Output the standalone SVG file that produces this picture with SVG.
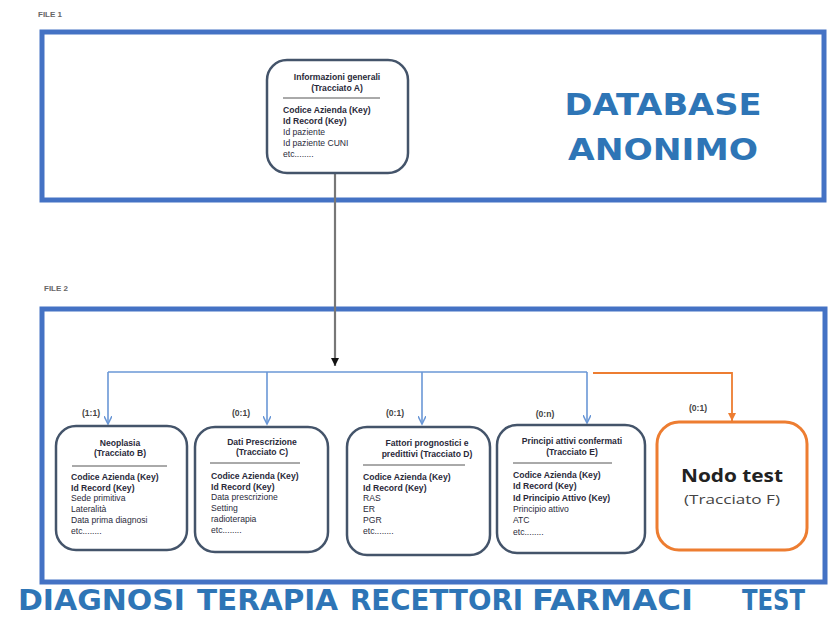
<svg xmlns="http://www.w3.org/2000/svg" width="833" height="617" viewBox="0 0 833 617">
<style>
.frame{fill:none;stroke:#4472C4;stroke-width:5}
.node{fill:#fff;stroke:#44546A;stroke-width:2.5}
.nodeF{fill:#fff;stroke:#ED7D31;stroke-width:3}
.t{font-family:"Liberation Sans",Arial,sans-serif;font-size:8.6px;fill:#2a2a3a}
.b{font-weight:bold}
.c{text-anchor:middle}
.sep{stroke:#555;stroke-width:1}
.lbl{font-family:"Liberation Sans",Arial,sans-serif;font-size:8.6px;font-weight:bold;fill:#444;text-anchor:middle}
.file{font-family:"Liberation Sans",Arial,sans-serif;font-size:8px;font-weight:bold;fill:#666}
.big{font-family:"DejaVu Sans",Verdana,sans-serif;font-weight:bold;font-size:31px;fill:#2E75B6;text-anchor:middle}
.bot{font-family:"DejaVu Sans Condensed","Liberation Sans",sans-serif;font-weight:bold;font-size:29px;fill:#2E75B6}
.blue{fill:none;stroke:#6A97D6;stroke-width:1.6}
.orange{fill:none;stroke:#ED7D31;stroke-width:1.8}
</style>
<defs>
<marker id="ab" markerWidth="10" markerHeight="8" refX="8" refY="4" orient="auto" markerUnits="userSpaceOnUse"><path d="M0,0 L8,4 L0,8" fill="none" stroke="#6A97D6" stroke-width="1.5"/></marker>
<marker id="ao" markerWidth="10" markerHeight="8" refX="8" refY="4" orient="auto" markerUnits="userSpaceOnUse"><path d="M0,0 L8,4 L0,8 z" fill="#ED7D31"/></marker>
<marker id="ak" markerWidth="10" markerHeight="8" refX="8" refY="4" orient="auto" markerUnits="userSpaceOnUse"><path d="M0,0 L8,4 L0,8 z" fill="#111"/></marker>
</defs>

<g id="file1">
<text class="file" x="38" y="17">FILE 1</text>
<rect class="frame" x="42" y="32" width="782" height="168"/>
<text class="big" x="663" y="115" textLength="197" lengthAdjust="spacingAndGlyphs">DATABASE</text>
<text class="big" x="663" y="160" textLength="190" lengthAdjust="spacingAndGlyphs">ANONIMO</text>
</g>

<g id="file2">
<text class="file" x="44" y="291">FILE 2</text>
<rect class="frame" x="42" y="309" width="783" height="273"/>
</g>

<g id="connectors">
<path d="M335,173 V366" fill="none" stroke="#777" stroke-width="2.2" marker-end="url(#ak)"/>
<path class="blue" d="M108,372 H587"/>
<path class="blue" d="M108,372 V424" marker-end="url(#ab)"/>
<path class="blue" d="M267,372 V424" marker-end="url(#ab)"/>
<path class="blue" d="M422,372 V424" marker-end="url(#ab)"/>
<path class="blue" d="M587,372 V423" marker-end="url(#ab)"/>
<path class="orange" d="M593,373 H732 V421" marker-end="url(#ao)"/>
<text class="lbl" x="91" y="416">(1:1)</text>
<text class="lbl" x="241" y="416">(0:1)</text>
<text class="lbl" x="395" y="416">(0:1)</text>
<text class="lbl" x="545" y="417">(0:n)</text>
<text class="lbl" x="698" y="411">(0:1)</text>
</g>

<g id="nodeA">
<rect class="node" x="267" y="60" width="141" height="113" rx="20"/>
<text class="t b c" x="337" y="80">Informazioni generali</text>
<text class="t b c" x="337" y="91">(Tracciato A)</text>
<line class="sep" x1="283" y1="98" x2="380" y2="98"/>
<text class="t b" x="283" y="113">Codice Azienda (Key)</text>
<text class="t b" x="283" y="124">Id Record (Key)</text>
<text class="t" x="283" y="135">Id paziente</text>
<text class="t" x="283" y="146">Id paziente CUNI</text>
<text class="t" x="283" y="157">etc........</text>
</g>

<g id="nodeB">
<rect class="node" x="56" y="426" width="131" height="124" rx="20"/>
<text class="t b c" x="120" y="446">Neoplasia</text>
<text class="t b c" x="120" y="456">(Tracciato B)</text>
<line class="sep" x1="72" y1="466" x2="167" y2="466"/>
<text class="t b" x="71" y="480">Codice Azienda (Key)</text>
<text class="t b" x="71" y="491">Id Record (Key)</text>
<text class="t" x="71" y="501">Sede primitiva</text>
<text class="t" x="71" y="512">Lateralità</text>
<text class="t" x="71" y="523">Data prima diagnosi</text>
<text class="t" x="71" y="534">etc........</text>
</g>

<g id="nodeC">
<rect class="node" x="195" y="427" width="133" height="125" rx="20"/>
<text class="t b c" x="262" y="445">Dati Prescrizione</text>
<text class="t b c" x="262" y="455">(Tracciato C)</text>
<line class="sep" x1="210" y1="463" x2="300" y2="463"/>
<text class="t b" x="211" y="479">Codice Azienda (Key)</text>
<text class="t b" x="211" y="490">Id Record (Key)</text>
<text class="t" x="211" y="500">Data prescrizione</text>
<text class="t" x="211" y="511">Setting</text>
<text class="t" x="211" y="522">radioterapia</text>
<text class="t" x="211" y="533">etc........</text>
</g>

<g id="nodeD">
<rect class="node" x="347" y="427" width="143" height="128" rx="20"/>
<text class="t b c" x="427" y="446">Fattori prognostici e</text>
<text class="t b c" x="427" y="457">predittivi (Tracciato D)</text>
<line class="sep" x1="363" y1="465" x2="465" y2="465"/>
<text class="t b" x="363" y="480">Codice Azienda (Key)</text>
<text class="t b" x="363" y="491">Id Record (Key)</text>
<text class="t" x="363" y="501">RAS</text>
<text class="t" x="363" y="512">ER</text>
<text class="t" x="363" y="523">PGR</text>
<text class="t" x="363" y="534">etc........</text>
</g>

<g id="nodeE">
<rect class="node" x="497" y="425" width="148" height="128" rx="20"/>
<text class="t b c" x="572" y="444">Principi attivi confermati</text>
<text class="t b c" x="572" y="455">(Tracciato E)</text>
<line class="sep" x1="513" y1="463" x2="612" y2="463"/>
<text class="t b" x="513" y="478">Codice Azienda (Key)</text>
<text class="t b" x="513" y="489">Id Record (Key)</text>
<text class="t b" x="513" y="501">Id Principio Attivo (Key)</text>
<text class="t" x="513" y="512">Principio attivo</text>
<text class="t" x="513" y="523">ATC</text>
<text class="t" x="513" y="535">etc........</text>
</g>

<g id="nodeF">
<rect class="nodeF" x="657" y="422" width="150" height="128" rx="22"/>
<text x="732" y="482" text-anchor="middle" font-family="'Open Sans','Liberation Sans',sans-serif" font-weight="bold" font-size="18" fill="#222" textLength="102" lengthAdjust="spacingAndGlyphs">Nodo test</text>
<text x="732" y="504" text-anchor="middle" font-family="'Open Sans','Liberation Sans',sans-serif" font-size="13.5" fill="#444" textLength="96" lengthAdjust="spacingAndGlyphs">(Tracciato F)</text>
</g>

<g id="bottom-labels">
<text class="bot" x="18" y="610" textLength="167" lengthAdjust="spacingAndGlyphs">DIAGNOSI</text>
<text class="bot" x="197" y="610" textLength="141" lengthAdjust="spacingAndGlyphs">TERAPIA</text>
<text class="bot" x="350" y="610" textLength="173" lengthAdjust="spacingAndGlyphs">RECETTORI</text>
<text class="bot" x="532" y="610" textLength="161" lengthAdjust="spacingAndGlyphs">FARMACI</text>
<text class="bot" x="742" y="610" textLength="63" lengthAdjust="spacingAndGlyphs">TEST</text>
</g>
</svg>
